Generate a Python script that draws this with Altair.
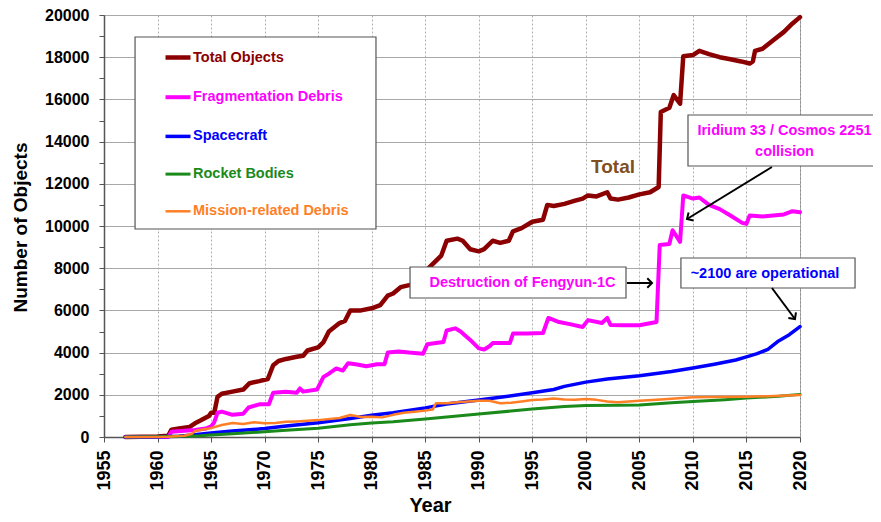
import altair as alt
import pandas as pd

# ---------------- data ----------------
SERIES = ["Total Objects", "Fragmentation Debris", "Spacecraft", "Rocket Bodies", "Mission-related Debris"]
COLORS = ["#8B0000", "#FF00FF", "#0000FF", "#1A8A1A", "#FF7F27"]
WIDTHS = [4.5, 2.5, 2.5, 2.5, 2.5]

TOTAL_YEARS = [1957.0, 1960.0, 1961.0, 1961.3, 1962.0, 1963.0, 1963.5, 1964.0, 1964.8, 1965.0, 1965.3, 1965.6,
               1966.0, 1967.0, 1968.0, 1968.6, 1969.5, 1970.3, 1970.8, 1971.3, 1972.0, 1973.0, 1973.6, 1974.0,
               1975.0, 1975.5, 1976.0, 1976.5, 1977.0, 1977.5, 1978.0, 1979.0, 1980.0, 1980.8, 1981.5, 1982.0,
               1982.7, 1983.5, 1984.2, 1984.7, 1985.5, 1986.5, 1987.0, 1988.0, 1988.5, 1989.2, 1990.0, 1990.5,
               1991.3, 1992.0, 1992.8, 1993.2, 1994.0, 1995.0, 1996.0, 1996.4, 1997.0, 1998.0, 1999.0, 1999.7,
               2000.2, 2001.0, 2002.0, 2002.3, 2003.0, 2004.0, 2005.0, 2006.0, 2006.8, 2007.0, 2007.8, 2008.2,
               2008.8, 2009.1, 2010.0, 2010.6, 2011.5, 2012.5, 2013.5, 2014.5, 2015.3, 2015.6, 2015.8, 2016.5,
               2017.5, 2018.5, 2019.3, 2020.0]
TOTAL_VALUES = [0, 20, 60, 350, 400, 480, 650, 780, 1000, 1150, 1150, 1900,
                2050, 2150, 2250, 2550, 2650, 2750, 3400, 3600, 3700, 3800, 3850, 4100,
                4250, 4500, 5000, 5200, 5400, 5500, 6000, 6000, 6100, 6250, 6700, 6800,
                7100, 7200, 7300, 7700, 8100, 8600, 9300, 9400, 9300, 8900, 8800, 8900,
                9300, 9200, 9300, 9750, 9900, 10200, 10300, 11000, 10950, 11050, 11200, 11300,
                11450, 11400, 11600, 11300, 11250, 11350, 11500, 11600, 11850, 15400, 15600, 16200,
                15800, 18050, 18100, 18300, 18150, 18000, 17900, 17800, 17700, 17800, 18300, 18400,
                18800, 19200, 19600, 19900]

FRAG_YEARS = [1957.0, 1961.0, 1961.3, 1962.5, 1963.5, 1964.5, 1965.0, 1965.3, 1965.6, 1966.0, 1967.0, 1968.0,
              1968.5, 1969.5, 1970.4, 1970.8, 1972.0, 1973.0, 1973.3, 1973.6, 1974.9, 1975.5, 1976.0, 1976.7,
              1977.3, 1977.8, 1978.5, 1979.5, 1980.5, 1981.2, 1981.5, 1982.5, 1983.5, 1984.8, 1985.2, 1986.0,
              1986.7, 1987.0, 1987.8, 1988.3, 1989.2, 1990.0, 1990.5, 1991.0, 1991.3, 1992.9, 1993.2, 1994.5,
              1996.0, 1996.5, 1997.5, 1998.5, 1999.7, 2000.2, 2001.5, 2002.0, 2002.3, 2003.5, 2005.0, 2006.6,
              2006.9, 2007.8, 2008.1, 2008.8, 2009.1, 2010.0, 2010.6, 2011.5, 2012.5, 2013.5, 2014.6, 2015.0,
              2015.3, 2016.5, 2017.5, 2018.5, 2019.3, 2020.0]
FRAG_VALUES = [0, 0, 250, 300, 330, 400, 500, 700, 1150, 1200, 1050, 1100,
               1400, 1550, 1550, 2100, 2150, 2100, 2300, 2150, 2250, 2850, 3000, 3250,
               3150, 3500, 3450, 3350, 3450, 3450, 4000, 4050, 4000, 3950, 4400, 4450,
               4500, 5050, 5150, 5000, 4600, 4200, 4150, 4300, 4450, 4450, 4900, 4900,
               4930, 5640, 5450, 5350, 5210, 5540, 5400, 5640, 5310, 5300, 5300, 5450,
               9100, 9150, 9800, 9250, 11450, 11300, 11350, 11000, 10800, 10500, 10150, 10100,
               10500, 10450, 10500, 10550, 10700, 10650]

SC_YEARS = [1957, 1960, 1962, 1963, 1965, 1967, 1970, 1972, 1975, 1978, 1980, 1982, 1985, 1987, 1990, 1992,
            1995, 1997, 1998, 2000, 2002, 2005, 2008, 2010, 2012, 2014, 2015, 2016, 2017, 2018, 2019, 2020]
SC_VALUES = [0, 10, 40, 80, 190, 280, 400, 520, 680, 880, 1030, 1150, 1380, 1560, 1750, 1880,
             2100, 2250, 2400, 2600, 2750, 2900, 3100, 3270, 3450, 3650, 3800, 3950, 4150, 4550, 4850, 5230]

RB_YEARS = [1957, 1960, 1962, 1964, 1965, 1967, 1970, 1972, 1975, 1978, 1980, 1982, 1985, 1988, 1990, 1993,
            1995, 1998, 2000, 2003, 2005, 2008, 2010, 2013, 2015, 2018, 2020]
RB_VALUES = [0, 10, 30, 60, 90, 150, 250, 320, 420, 580, 660, 720, 850, 1000, 1090, 1230,
             1330, 1450, 1490, 1500, 1520, 1620, 1680, 1770, 1850, 1930, 2020]

MRD_YEARS = [1957, 1961, 1962.5, 1963.2, 1963.5, 1964.5, 1965, 1966, 1967, 1968, 1969, 1970, 1971, 1972, 1973,
             1975, 1977, 1978, 1979, 1980, 1981, 1982, 1983, 1984, 1985, 1985.7, 1986, 1987, 1988, 1989, 1990,
             1991, 1992, 1993, 1994, 1995, 1996, 1997, 1998, 1999, 2000, 2001, 2002, 2003, 2004, 2005, 2007,
             2009, 2010, 2012, 2015, 2017, 2020]
MRD_VALUES = [0, 10, 60, 150, 280, 380, 420, 570, 660, 620, 700, 650, 660, 720, 740,
              800, 900, 1040, 950, 960, 930, 1050, 1150, 1200, 1250, 1300, 1600, 1600, 1650, 1680, 1720,
              1720, 1600, 1620, 1680, 1750, 1780, 1830, 1780, 1770, 1800, 1760, 1680, 1650, 1680, 1720, 1780,
              1850, 1880, 1900, 1910, 1930, 1990]

X_TICKS = list(range(1955, 2021, 5))
Y_TICKS = list(range(0, 20001, 1000))

# annotation texts
NOTE_TEXTS = ["Total", "Iridium 33 / Cosmos 2251", "collision", "Destruction of Fengyun-1C", "~2100 are operational"]
NOTE_COLORS = ["#7F4F1F", "#FF00FF", "#FF00FF", "#FF00FF", "#0000FF"]
NOTE_X = [2002.54, 2018.55, 2018.55, 1994.08, 2016.73]
NOTE_Y = [12796, 14480, 13510, 7284, 7725]
NOTE_SIZE = [19, 14.5, 14.5, 14.5, 14.5]

# boxes: legend, Iridium, Fengyun, operational
BOX_X1 = [1957.90, 2009.54, 1983.58, 2008.88]
BOX_X2 = [1980.40, 2027.40, 2003.75, 2025.14]
BOX_Y1 = [18957, 15260, 8057, 8483]
BOX_Y2 = [9857, 12843, 6588, 7062]

# arrows
ARR_X1 = [2017.38, 2003.84, 2017.38]
ARR_Y1 = [12796, 7298, 7062]
ARR_X2 = [2009.45, 2006.18, 2019.53]
ARR_Y2 = [10332, 7298, 5592]
ARR_ANGLE = [148.5, 0, 53.4]

# ---------------- tables ----------------
rows = []
for name, ys, vs in zip(SERIES, [TOTAL_YEARS, FRAG_YEARS, SC_YEARS, RB_YEARS, MRD_YEARS],
                        [TOTAL_VALUES, FRAG_VALUES, SC_VALUES, RB_VALUES, MRD_VALUES]):
    for yr, v in zip(ys, vs):
        rows.append({"series": name, "year": yr, "count": v})
lines_df = pd.DataFrame(rows)

notes_df = pd.DataFrame({"text": NOTE_TEXTS, "color": NOTE_COLORS, "year": NOTE_X, "count": NOTE_Y, "size": NOTE_SIZE})
boxes_df = pd.DataFrame({"year": BOX_X1, "year2": BOX_X2, "count": BOX_Y1, "count2": BOX_Y2})
arrows_df = pd.DataFrame({"year": ARR_X1, "count": ARR_Y1, "year2": ARR_X2, "count2": ARR_Y2, "angle": ARR_ANGLE})

# ---------------- scales / axes ----------------
X_SCALE = alt.Scale(domain=[1955, 2020], nice=False, zero=False)
Y_SCALE = alt.Scale(domain=[0, 20000], nice=False)
FONT = "Liberation Sans"

X_AXIS = alt.Axis(values=X_TICKS, format="d", labelAngle=270, labelAlign="right", labelBaseline="middle",
                  labelPadding=8, labelFontSize=18, labelFontWeight="bold", labelColor="black",
                  labelFlush=False, labelOverlap=False, tickSize=5, tickColor="#555555",
                  domainColor="#555555", domainWidth=1.5, gridColor="#B0B0B0", gridDash=[2, 2], gridWidth=1,
                  title="Year", titleFontSize=20, titleFontWeight="bold", titleColor="black",
                  titleX=326, titleY=74, titleAlign="center", titleBaseline="alphabetic")
Y_AXIS = alt.Axis(values=Y_TICKS, format="d", labelExpr="datum.value % 2000 === 0 ? datum.label : ''",
                  labelPadding=10, labelFontSize=16, labelFontWeight="bold", labelColor="black",
                  labelFlush=False, labelOverlap=False, tickSize=5, tickColor="#555555",
                  domainColor="#555555", domainWidth=1.5, gridColor="#A8A8A8", gridWidth=1,
                  gridOpacity={"condition": {"test": "datum.value % 2000 === 0", "value": 1}, "value": 0},
                  title="Number of Objects", titleFontSize=19, titleFontWeight="bold", titleColor="black",
                  titleX=-84, titleY=212, titleAngle=270, titleAlign="center", titleBaseline="middle")


def X(field):
    return alt.X(field, type="quantitative", scale=X_SCALE, axis=X_AXIS)


def Y(field):
    return alt.Y(field, type="quantitative", scale=Y_SCALE, axis=Y_AXIS)


LEGEND = alt.Legend(orient="none", legendX=31, legendY=21, title=None, symbolType="stroke", symbolSize=625,
                    symbolOffset=21.5, labelOffset=0, padding=6.5, rowPadding=16.2, labelFontSize=14.5,
                    labelFont=FONT, labelFontWeight="bold", labelLimit=300,
                    labelColor={"expr": "scale('color', datum.value)"})

lines = alt.Chart(lines_df).mark_line(strokeJoin="round", strokeCap="round").encode(
    x=X("year"),
    y=Y("count"),
    color=alt.Color("series:N", scale=alt.Scale(domain=SERIES, range=COLORS), legend=LEGEND),
    strokeWidth=alt.StrokeWidth("series:N", scale=alt.Scale(domain=SERIES, range=WIDTHS), legend=LEGEND),
)

boxes = alt.Chart(boxes_df).mark_rect(fill="white", stroke="#555555", strokeWidth=1.2).encode(
    x=X("year"), x2="year2", y=Y("count"), y2="count2"
)

text_layers = []
for col in ["#7F4F1F", "#FF00FF", "#0000FF"]:
    sub = notes_df[notes_df["color"] == col]
    size = float(sub["size"].iloc[0])
    text_layers.append(
        alt.Chart(sub).mark_text(font=FONT, fontWeight="bold", fontSize=size, color=col,
                                 align="center", baseline="middle").encode(
            x=X("year"), y=Y("count"), text="text:N")
    )

arrow_lines = alt.Chart(arrows_df).mark_rule(color="black", strokeWidth=2).encode(
    x=X("year"), y=Y("count"), x2="year2", y2="count2"
)
arrow_heads = alt.Chart(arrows_df).mark_point(shape="M-1,-1L0,0L-1,1", filled=False, color="black",
                                              strokeWidth=2, size=90, opacity=1).encode(
    x=X("year2"), y=Y("count2"), angle=alt.Angle("angle:Q", scale=None)
)

chart = alt.layer(lines, boxes, *text_layers, arrow_lines, arrow_heads).properties(
    width=696, height=422,
    autosize=alt.AutoSizeParams(type="none"),
    padding={"left": 96, "top": 7, "right": 73, "bottom": 77},
).configure(font=FONT).configure_view(stroke="#8C8C8C", strokeWidth=1)

chart.save("out.html", embed_options={"renderer": "svg", "actions": False})
